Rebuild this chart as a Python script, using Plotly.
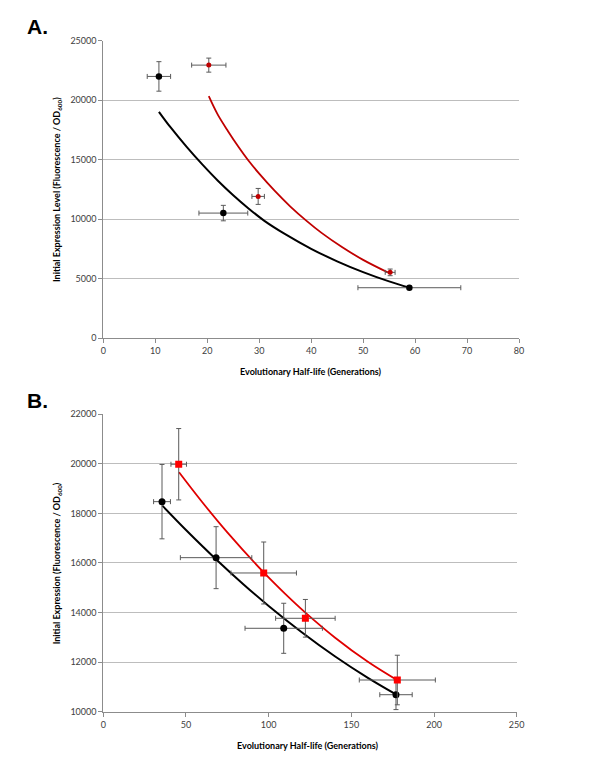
import plotly.graph_objects as go

# ---------------- Panel A data ----------------
a_black_x = [10.7, 23.1, 58.9]
a_black_y = [22000, 10520, 4250]
a_black_xerr = [2.25, 4.7, 9.9]
a_black_yerr = [1240, 650, 0]

a_red_x = [20.3, 29.8, 55.2]
a_red_y = [22950, 11920, 5540]
a_red_xerr = [3.3, 1.2, 0.95]
a_red_yerr = [590, 670, 280]

a_black_fit_x = [10.7, 13, 16, 19, 22, 25, 28, 31, 35, 40, 45, 50, 55, 58.9]
a_black_fit_y = [19030, 17690, 16100, 14630, 13260, 12020, 10890, 9870, 8750, 7520, 6470, 5560, 4780, 4250]

a_red_fit_x = [20.3, 22, 24, 26, 28, 30, 33, 36, 39, 42, 46, 50, 55.2]
a_red_fit_y = [20340, 18810, 17400, 16090, 14890, 13830, 12380, 11070, 9910, 8860, 7650, 6590, 5440]

# ---------------- Panel B data ----------------
b_black_x = [35.5, 68.2, 109.1, 177.0]
b_black_y = [18475, 16215, 13366, 10686]
b_black_xerr = [5.1, 21.6, 23.4, 9.8]
b_black_yerr = [1500, 1250, 1010, 600]

b_red_x = [45.6, 97.0, 122.2, 177.8]
b_red_y = [19984, 15597, 13769, 11279]
b_red_xerr = [4.7, 19.8, 18.0, 23.0]
b_red_yerr = [1440, 1250, 760, 1000]

b_black_fit_x = [35.7, 50, 68.6, 85, 100, 120, 140, 160, 177.0]
b_black_fit_y = [18313, 17330, 16122, 15125, 14267, 13207, 12239, 11366, 10700]

b_red_fit_x = [45.8, 60, 75, 97.0, 110, 122.2, 140, 160, 177.8]
b_red_fit_y = [19661, 18441, 17235, 15620, 14754, 13998, 12996, 12013, 11270]

a_xticks = [0, 10, 20, 30, 40, 50, 60, 70, 80]
a_yticks = [0, 5000, 10000, 15000, 20000, 25000]
b_xticks = [0, 50, 100, 150, 200, 250]
b_yticks = [10000, 12000, 14000, 16000, 18000, 20000, 22000]

ERR_COLOR = "#5a5a5a"
BLACK = "#000000"
RED_A = "#c00000"
RED_B = "#e00000"

fig = go.Figure()

def err(arr):
    return dict(type="data", array=arr, visible=True, color=ERR_COLOR, thickness=1, width=2.5)

# Panel A curves
fig.add_trace(go.Scatter(x=a_black_fit_x, y=a_black_fit_y, mode="lines",
                         line=dict(color=BLACK, width=2, shape="spline", smoothing=1.0),
                         xaxis="x", yaxis="y", showlegend=False, hoverinfo="skip"))
fig.add_trace(go.Scatter(x=a_red_fit_x, y=a_red_fit_y, mode="lines",
                         line=dict(color=RED_A, width=1.8, shape="spline", smoothing=1.0),
                         xaxis="x", yaxis="y", showlegend=False, hoverinfo="skip"))
# Panel A points
fig.add_trace(go.Scatter(x=a_black_x, y=a_black_y, mode="markers",
                         marker=dict(color=BLACK, size=6.5, symbol="circle"),
                         error_x=err(a_black_xerr), error_y=err(a_black_yerr),
                         xaxis="x", yaxis="y", showlegend=False))
fig.add_trace(go.Scatter(x=a_red_x, y=a_red_y, mode="markers",
                         marker=dict(color=RED_A, size=5, symbol="circle"),
                         error_x=err(a_red_xerr), error_y=err(a_red_yerr),
                         xaxis="x", yaxis="y", showlegend=False))

# Panel B curves
fig.add_trace(go.Scatter(x=b_black_fit_x, y=b_black_fit_y, mode="lines",
                         line=dict(color=BLACK, width=2, shape="spline", smoothing=1.0),
                         xaxis="x2", yaxis="y2", showlegend=False, hoverinfo="skip"))
fig.add_trace(go.Scatter(x=b_red_fit_x, y=b_red_fit_y, mode="lines",
                         line=dict(color=RED_B, width=1.8, shape="spline", smoothing=1.0),
                         xaxis="x2", yaxis="y2", showlegend=False, hoverinfo="skip"))
# Panel B points
fig.add_trace(go.Scatter(x=b_black_x, y=b_black_y, mode="markers",
                         marker=dict(color=BLACK, size=7, symbol="circle"),
                         error_x=err(b_black_xerr), error_y=err(b_black_yerr),
                         xaxis="x2", yaxis="y2", showlegend=False))
fig.add_trace(go.Scatter(x=b_red_x, y=b_red_y, mode="markers",
                         marker=dict(color="#ff0000", size=7, symbol="square"),
                         error_x=err(b_red_xerr), error_y=err(b_red_yerr),
                         xaxis="x2", yaxis="y2", showlegend=False))

tickfont = dict(family="Lato, 'Open Sans', sans-serif", size=9, color="#404040")
common_x = dict(showgrid=False, zeroline=False, showline=True, linecolor="#8c8c8c", linewidth=1,
                ticks="outside", ticklen=4, tickcolor="#8c8c8c", tickfont=tickfont, tickmode="array",
                automargin=False)
common_y = dict(showgrid=True, gridcolor="#bdbdbd", gridwidth=1, zeroline=False, showline=True,
                linecolor="#8c8c8c", linewidth=1, ticks="outside", ticklen=4, tickcolor="#8c8c8c",
                tickfont=tickfont, tickmode="array", automargin=False)

# The page body has an 8px margin, so the figure is 592x768 and positions are shifted by 8px.
fig.update_layout(
    width=592, height=768,
    margin=dict(l=0, r=0, t=0, b=0, autoexpand=False),
    paper_bgcolor="white", plot_bgcolor="white",
    xaxis=dict(domain=[0.161, 0.8632], range=[0, 80], anchor="y",
               tickvals=a_xticks, ticktext=[str(v) for v in a_xticks], **common_x),
    yaxis=dict(domain=[0.5699, 0.9574], range=[0, 25000], anchor="x",
               tickvals=a_yticks, ticktext=[str(v) for v in a_yticks], **common_y),
    xaxis2=dict(domain=[0.161, 0.8593], range=[0, 250], anchor="y2",
                tickvals=b_xticks, ticktext=[str(v) for v in b_xticks], **common_x),
    yaxis2=dict(domain=[0.0837, 0.4710], range=[10000, 22000], anchor="x2",
                tickvals=b_yticks, ticktext=[str(v) for v in b_yticks], **common_y),
)

title_font = dict(family="Lato, 'Open Sans', sans-serif", size=9, color="#000000")
label_font = dict(family="'Liberation Sans', Arial, sans-serif", size=21, color="#000000")

annotations = [
    dict(text="<b>A.</b>", x=0.049, y=0.9753, xref="paper", yref="paper",
         xanchor="center", yanchor="middle", showarrow=False, font=label_font),
    dict(text="<b>B.</b>", x=0.049, y=0.4887, xref="paper", yref="paper",
         xanchor="center", yanchor="middle", showarrow=False, font=label_font),
    dict(text="<b>Evolutionary Half-life (Generations)</b>", x=0.5115, y=0.5273,
         xref="paper", yref="paper", xanchor="center", yanchor="middle",
         showarrow=False, font=title_font),
    dict(text="<b>Evolutionary Half-life (Generations)</b>", x=0.5068, y=0.0395,
         xref="paper", yref="paper", xanchor="center", yanchor="middle",
         showarrow=False, font=title_font),
    dict(text="<b>Initial Expression Level (Fluorescence / OD<sub>600</sub>)</b>", x=0.0828, y=0.763,
         xref="paper", yref="paper", xanchor="center", yanchor="middle", textangle=-90,
         showarrow=False, font=title_font),
    dict(text="<b>Initial Expression (Fluorescence / OD<sub>600</sub>)</b>", x=0.0833, y=0.2773,
         xref="paper", yref="paper", xanchor="center", yanchor="middle", textangle=-90,
         showarrow=False, font=title_font),
]
fig.update_layout(annotations=annotations)

fig.write_html("out.html")
